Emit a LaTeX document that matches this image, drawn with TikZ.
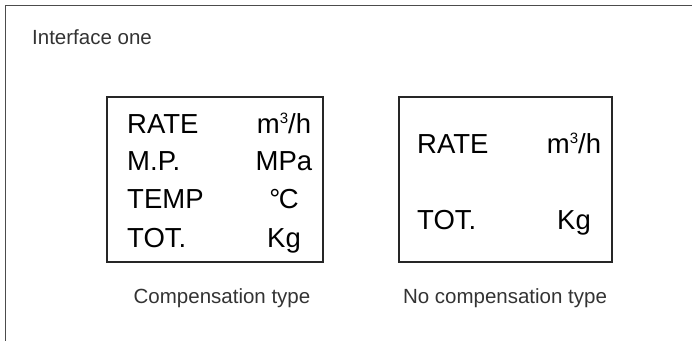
\documentclass[tikz,border=0pt]{standalone}
\usepackage{fontspec}
\setmainfont{Liberation Sans}
\usetikzlibrary{positioning}
\newcommand{\cubed}{\raisebox{0.62ex}{\fontsize{15}{15}\selectfont 3}}
\tikzset{
    panel/.style={draw=black!85, line width=1.1pt, inner sep=0pt},
    reading/.style={anchor=base west, inner sep=0pt, font=\fontsize{27.5}{32}\selectfont},
    unit/.style={anchor=base, inner sep=0pt, font=\fontsize{27.5}{32}\selectfont},
    caption/.style={anchor=base, inner sep=0pt, font=\fontsize{20.5}{24}\selectfont, text=black!80}
}
\begin{document}
\begin{tikzpicture}[x=1pt, y=-1pt]
        \useasboundingbox (0,0) rectangle (692,340);
        % Outer frame
        \draw[black!70, line width=1.3pt] (720,5.5) -- (5.5,5.5) -- (5.5,345);
        \node[caption, anchor=base west] (title) at (32,44) {Interface one};

        % Compensation type
        \node[panel, minimum width=216pt, minimum height=165pt] (comp) at (215,179.5) {};
        \foreach \y/\name/\u in {133/RATE/{m\cubed/h}, 170/M.P./MPa, 208/TEMP/{°\kern-1.5pt C}, 247/TOT./Kg} {
            \node[reading] at (127,\y) {\name};
            \node[unit] at (284,\y) {\u};
        }
        \node[caption] (compcap) at (222,303) {Compensation type};

        % No compensation type
        \node[panel, minimum width=213pt, minimum height=165pt] (nocomp) at (505.5,179.5) {};
        \foreach \y/\name/\u in {153/RATE/{m\cubed/h}, 229/TOT./Kg} {
            \node[reading] at (417,\y) {\name};
            \node[unit] at (574,\y) {\u};
        }
        \node[caption] (nocompcap) at (505,303) {No compensation type};
    \end{tikzpicture}
\end{document}
